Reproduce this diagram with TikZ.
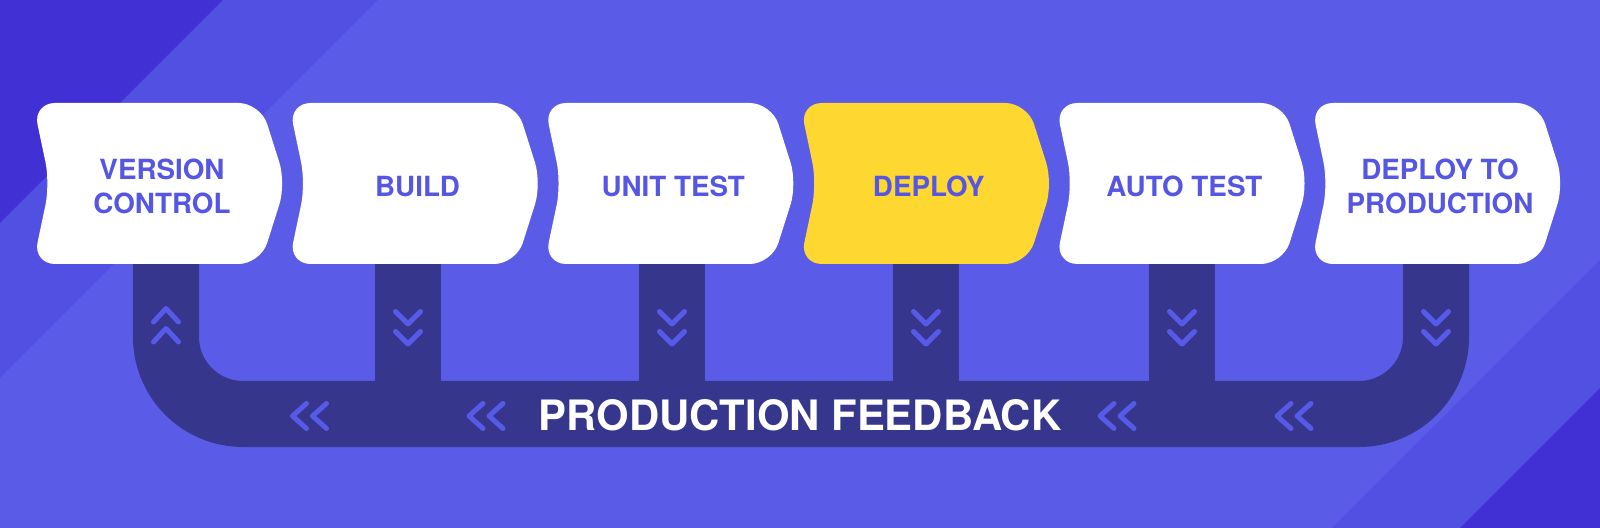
\documentclass[tikz,border=0pt]{standalone}
\usepackage{fontspec}
\setmainfont{TeX Gyre Heros}
\definecolor{bgblue}{HTML}{5A5CE8}
\definecolor{midblue}{HTML}{5150E2}
\definecolor{darkblue}{HTML}{4130D4}
\definecolor{pipeblue}{HTML}{36368C}
\definecolor{chevblue}{HTML}{5759E8}
\definecolor{textblue}{HTML}{5557E4}
\definecolor{deployyellow}{HTML}{FED730}
\begin{document}
\begin{tikzpicture}[x=0.01cm, y=-0.01cm,
  stage/.style={font=\bfseries\fontsize{7.9}{9.7}\selectfont, text=textblue, align=center, inner sep=0pt},
  pipe/.style={draw=pipeblue, line width=0.66cm},
  chev/.style={draw=chevblue, line width=0.05cm, line cap=round, line join=round}]
% Background
\fill[bgblue] (0,0) rectangle (1600,528);
\fill[midblue] (0,0) -- (378,0) -- (0,378) -- cycle;
\fill[darkblue] (0,0) -- (223,0) -- (0,223) -- cycle;
\fill[midblue] (1600,260) -- (1600,528) -- (1332,528) -- cycle;
\fill[darkblue] (1600,388) -- (1600,528) -- (1460,528) -- cycle;
\useasboundingbox (0,0) rectangle (1600,528);
% Feedback channel
\foreach \n/\sx in {1/166,2/408,3/672,4/926,5/1182,6/1436}
  \coordinate (b\n) at (\sx,258);
\coordinate (fbc) at (800,414);
\draw[pipe, rounded corners=0.77cm] (b1) -- (b1 |- fbc) -- (b6 |- fbc) -- (b6);
\foreach \n in {2,...,5}
  \draw[pipe] (b\n) -- (b\n |- fbc);
\node[font=\bfseries\fontsize{11.9}{14}\selectfont, text=white, inner sep=0pt] (fb) at (800,415) {PRODUCTION FEEDBACK};
% Stages
\foreach \n/\x/\col/\txt in {1/38/white/{VERSION\\CONTROL}, 2/293.6/white/BUILD,
    3/549.2/white/{UNIT TEST}, 4/804.8/deployyellow/DEPLOY,
    5/1060.4/white/{AUTO TEST}, 6/1316/white/{DEPLOY TO\\PRODUCTION}} {
  \fill[\col, rounded corners=0.22cm] (\x+110,103) -- (\x+222.5,103) -- (\x+248,183.5)
    -- (\x+222.5,264) -- (\x-5,264) -- (\x+12,183.5) -- (\x-5,103) -- (\x+100,103);
  \node[stage] (s\n) at (\x+124,186.5) {\txt};
}
% Flow marks
\foreach \d in {0,20}
  \draw[chev] (153.5,322+\d) -- (166,308.5+\d) -- (178.5,322+\d);
\foreach \sx in {408,672,926,1182,1436}
  \foreach \d in {0,20}
    \draw[chev] (\sx-12.5,311.5+\d) -- (\sx,324+\d) -- (\sx+12.5,311.5+\d);
\foreach \cx in {309.5,486,1117,1294}
  \foreach \d in {0,20}
    \draw[chev] (\cx-3+\d,403.5) -- (\cx-17+\d,416) -- (\cx-3+\d,428.5);
\end{tikzpicture}
\end{document}
